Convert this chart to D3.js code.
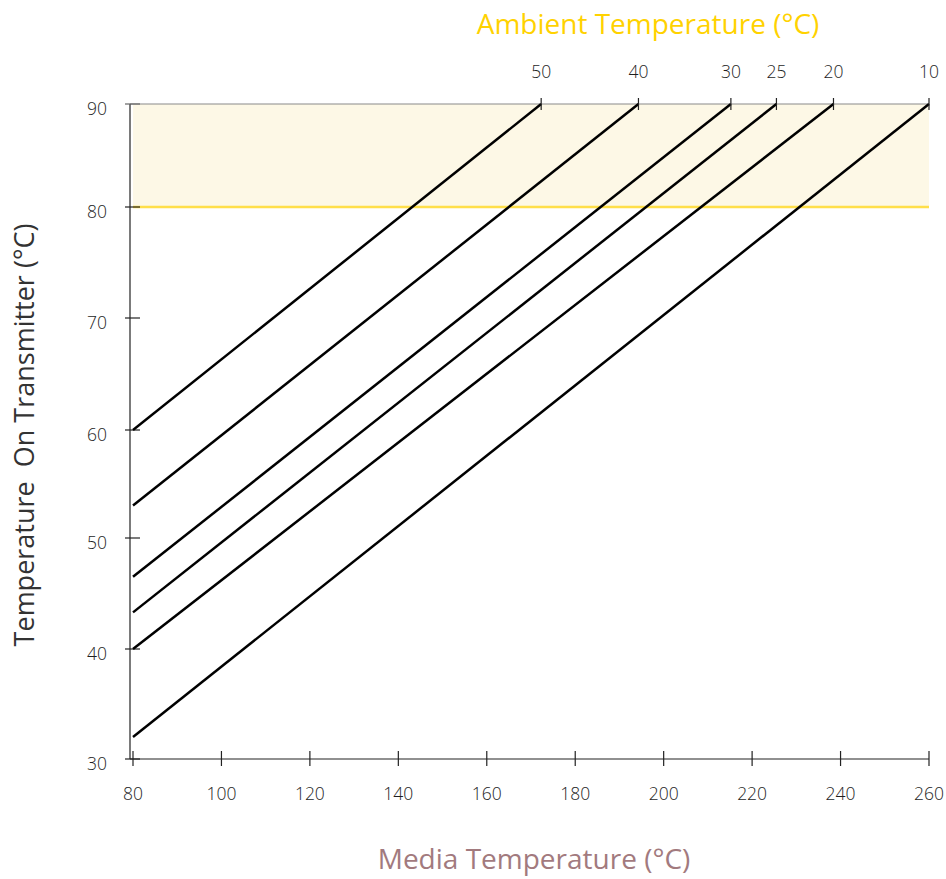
<!DOCTYPE html>
<head>
    <meta charset="UTF-8">
    <title>Transmitter Temperature</title>
</head>
<style>
    body { margin: 0; background: #fff; }
    text { font-family: "Open Sans", sans-serif; font-weight: 400; }
    .tick-label { font-size: 17.5px; font-weight: 300; fill: #1e1e1e; }
</style>
<body>
<script src="https://d3js.org/d3.v7.min.js"></script>
<script>
    // ambient temperatures, one line each
    var ambient = [50, 40, 30, 25, 20, 10];
    // transmitter temperature when media is 80 °C
    var startTemp = [60, 53, 46.5, 43.3, 40, 32];
    // media temperature where transmitter reaches 90 °C
    var endMedia = [172.3, 194.3, 215.2, 225.5, 238.4, 260];

    var xTicks = [80, 100, 120, 140, 160, 180, 200, 220, 240, 260];
    var yTicks = [30, 40, 50, 60, 70, 80, 90];
    var limitLow = 80, limitHigh = 90;

    var width = 946, height = 879;

    var x = d3.scaleLinear().domain([80, 260]).range([133, 929]);
    // the printed axis is not quite evenly spaced
    var y = d3.scaleLinear()
        .domain(yTicks)
        .range([759, 649, 538, 430, 318, 207, 104]);

    var svg = d3.select("body").append("svg")
        .attr("width", width)
        .attr("height", height);

    // warning band
    svg.append("rect")
        .attr("x", x(80))
        .attr("y", y(limitHigh))
        .attr("width", x(260) - x(80))
        .attr("height", y(limitLow) - y(limitHigh))
        .attr("fill", "#fdf8e6");

    svg.append("line")
        .attr("x1", x(80)).attr("x2", x(260))
        .attr("y1", y(limitLow)).attr("y2", y(limitLow))
        .attr("stroke", "#ffdf4a")
        .attr("stroke-width", 2.5);

    // top (ambient) axis line
    svg.append("line")
        .attr("x1", 130).attr("x2", x(260))
        .attr("y1", y(limitHigh)).attr("y2", y(limitHigh))
        .attr("stroke", "#8a8a8a")
        .attr("stroke-width", 1.2);

    // left axis
    svg.append("line")
        .attr("x1", 130).attr("x2", 130)
        .attr("y1", y(90)).attr("y2", y(30))
        .attr("stroke", "#222").attr("stroke-width", 1.2);

    svg.selectAll(".ytick").data(yTicks).enter().append("line")
        .attr("x1", 125).attr("x2", 140)
        .attr("y1", function(d) { return y(d); })
        .attr("y2", function(d) { return y(d); })
        .attr("stroke", function(d) { return d === 90 ? "#666" : "#222"; })
        .attr("stroke-width", 1.2);

    svg.selectAll(".ylabel").data(yTicks).enter().append("text")
        .attr("class", "tick-label")
        .attr("x", 107)
        .attr("y", function(d) { return y(d) + 11; })
        .attr("text-anchor", "end")
        .text(function(d) { return d; });

    // bottom axis
    svg.append("line")
        .attr("x1", 130).attr("x2", x(260))
        .attr("y1", y(30)).attr("y2", y(30))
        .attr("stroke", "#222").attr("stroke-width", 1.2);

    svg.selectAll(".xtick").data(xTicks).enter().append("line")
        .attr("x1", function(d) { return x(d); })
        .attr("x2", function(d) { return x(d); })
        .attr("y1", y(30) - 8).attr("y2", y(30) + 7)
        .attr("stroke", "#222").attr("stroke-width", 1.2);

    svg.selectAll(".xlabel").data(xTicks).enter().append("text")
        .attr("class", "tick-label")
        .attr("x", function(d) { return x(d); })
        .attr("y", 800)
        .attr("text-anchor", "middle")
        .text(function(d) { return d; });

    // ambient lines
    var lines = ambient.map(function(a, i) {
        return {a: a, x0: 80, y0: startTemp[i], x1: endMedia[i], y1: 90};
    });

    svg.selectAll(".amb").data(lines).enter().append("line")
        .attr("x1", function(d) { return x(d.x0); })
        .attr("y1", function(d) { return y(d.y0); })
        .attr("x2", function(d) { return x(d.x1); })
        .attr("y2", function(d) { return y(d.y1); })
        .attr("stroke", "#000")
        .attr("stroke-width", 2.5);

    svg.selectAll(".ttick").data(lines).enter().append("line")
        .attr("x1", function(d) { return x(d.x1); })
        .attr("x2", function(d) { return x(d.x1); })
        .attr("y1", y(90) - 6).attr("y2", y(90) + 6)
        .attr("stroke", "#222").attr("stroke-width", 1.2);

    svg.selectAll(".tlabel").data(lines).enter().append("text")
        .attr("class", "tick-label")
        .attr("x", function(d) { return x(d.x1); })
        .attr("y", 78)
        .attr("text-anchor", "middle")
        .text(function(d) { return d.a; });

    // titles
    svg.append("text")
        .attr("x", 648).attr("y", 34)
        .attr("text-anchor", "middle")
        .attr("font-size", 28)
        .attr("fill", "#ffd200")
        .text("Ambient Temperature (°C)");

    svg.append("text")
        .attr("x", 534).attr("y", 869)
        .attr("text-anchor", "middle")
        .attr("font-size", 28)
        .attr("fill", "#a27a7e")
        .text("Media Temperature (°C)");

    svg.append("text")
        .attr("transform", "translate(34,435) rotate(-90)")
        .attr("text-anchor", "middle")
        .attr("font-size", 27)
        .attr("fill", "#333")
        .style("white-space", "pre")
        .text("Temperature  On Transmitter (°C)");
</script>
</body>
